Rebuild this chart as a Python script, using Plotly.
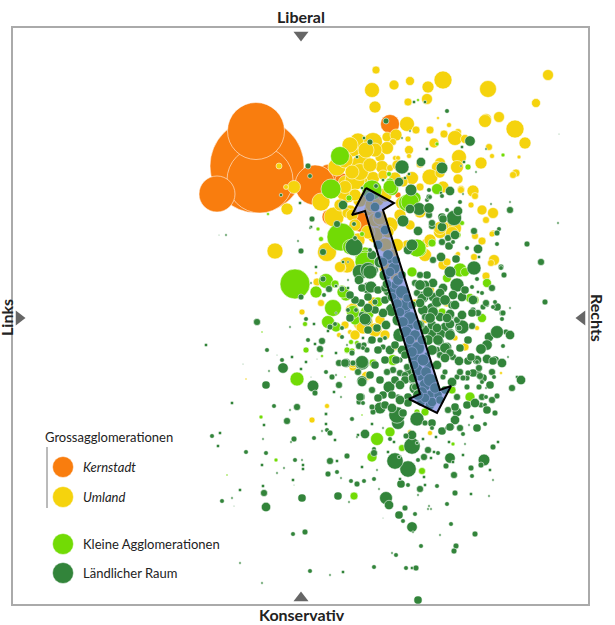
import plotly.graph_objects as go

# Each reading: (left-right position, liberal-conservative position, municipality size)
kernstadt = [(257,166,94),(260,180,66),(256,131,57),(217,194,36),(330,178,28),(315,185,40),
             (390,124,19),(360,222,20),(342,180,14),(330,217,16),(398,195,6)]

umland = [(376,70,8),(372,90,15),(394,85,10),(410,81,9),(428,87,12),(443,80,18),(488,89,17),(548,75,11),
(536,103,9),(375,107,12),(408,102,8),(427,99,11),(499,117,11),(486,119,11),(485,121,13),(515,129,18),
(525,143,12),(407,124,15),(416,130,8),(430,130,8),(444,134,8),(449,125,5),(438,118,3),(458,132,7),
(455,138,15),(465,139,9),(408,139,6),(434,143,10),(409,150,9),(409,156,5),(489,147,7),(492,156,5),
(519,157,4),(481,163,12),(459,157,15),(457,167,13),(440,163,11),(437,167,11),(420,164,8),(430,177,16),
(440,173,10),(458,179,10),(461,189,7),(473,191,12),(475,196,7),(516,173,8),(513,175,7),(443,187,12),
(412,178,13),(420,187,8),(362,165,22),(352,147,20),(358,141,16),(373,142,19),(387,137,10),(396,135,12),
(393,142,7),(380,157,10),(387,148,13),(382,167,13),(395,158,5),(398,158,5),(390,168,7),(358,182,11),
(345,182,13),(373,178,13),(383,175,10),(395,178,12),(403,182,10),(279,166,6),(294,187,13),(286,187,5),
(287,209,12),(275,251,16),(321,202,18),(334,217,20),(327,252,19),(347,193,20),(350,212,14),(337,167,18),
(362,182,12),(350,145,16),(355,180,20),(345,187,13),(482,210,10),(493,213,11),(486,220,7),(493,233,6),
(475,236,7),(482,241,8),(474,257,7),(494,260,11),(491,263,7),(486,276,8),(453,228,17),(443,227,12),
(440,232,13),(443,265,10),(457,255,5),(447,303,8),(455,338,6),(465,347,8),(477,328,5),(367,376,9),
(353,367,8),(347,265,16),(342,268,8),(363,322,20),(352,310,13),(380,320,10),(373,302,10),(398,273,10),
(415,303,8),(425,255,13),(402,203,13),(408,208,8),(407,245,10),(347,213,10),(343,205,8),(352,215,12),
(395,348,5),(501,373,3),(415,340,4),(383,230,15),(390,225,16),(397,245,13),(373,193,13),(360,172,17),
(461,190,7),(471,205,6),(492,234,6),(458,254,5),(452,233,13),(440,228,13),(447,262,8),(426,243,9),
(317,282,8),(321,303,7),(302,312,6),(340,267,11),(316,273,3),(339,335,5),(350,332,5),(356,336,4),
(353,364,8),(366,376,9),(327,406,5),(312,420,6),(246,379,2),(363,327,14),(353,308,10),(410,432,5),
(430,433,5),(393,407,6),(370,210,12),(410,225,10),(385,260,9),(400,290,8),(425,320,7),(430,290,9),
(375,150,14),(366,150,16),(345,160,16),(352,172,14),(368,195,14),(340,205,12),(360,200,14),(420,212,12),
(400,215,12),(430,240,12),(375,220,14),(355,225,12),(375,330,14),(355,335,10),(345,325,8),(385,335,10),
(375,235,16),(385,245,14),(372,205,14),(380,218,14),(378,200,12),(388,232,12),(392,255,12),(385,268,12),
(395,276,10),(400,298,9),(368,232,14),(358,240,14),(370,165,14),(355,195,12),(385,195,14),(397,165,10)]

kleine_agglomerationen = [(340,156,19),(331,189,20),(341,237,28),(349,198,6),(321,239,5),(318,229,4),
(268,214,3),(362,234,5),(365,257,20),(350,247,15),(372,190,20),(437,144,4),(418,100,3),(503,155,4),
(468,167,6),(437,189,11),(392,189,13),(390,182,8),(415,198,12),(389,174,5),(295,284,30),(316,292,12),
(326,281,15),(346,295,12),(333,308,17),(328,322,13),(336,327,10),(335,284,8),(342,288,6),(305,324,5),
(262,332,2),(306,350,6),(322,356,3),(297,379,14),(345,377,2),(347,351,5),(351,342,5),(357,343,5),
(352,351,6),(362,415,2),(261,417,4),(365,260,20),(353,313,10),(355,320,10),(367,313,14),(365,262,20),
(390,187,14),(407,203,17),(420,250,13),(343,292,12),(412,272,10),(460,270,14),(482,318,9),(487,283,9),
(447,278,9),(470,298,9),(353,312,13),(373,363,8),(393,360,11),(378,302,10),(347,350,6),(470,397,10),
(462,223,5),(458,235,6),(410,202,18),(432,243,8),(417,248,18),(465,272,9),(475,300,8),(425,412,8),
(452,390,8),(437,304,8),(442,312,8),(377,439,13),(390,432,10),(372,457,10),(354,496,8),(422,471,7),
(402,448,7),(453,444,4),(276,460,4),(227,475,2),(417,412,6)]

laendlicher_raum = [(274,406,4),(297,407,6),(290,410,2),(287,421,6),(264,425,3),(326,414,3),(326,424,3),
(327,430,4),(330,433,5),(322,431,2),(314,438,4),(335,440,3),(294,439,5),(263,439,2),(291,442,2),(212,436,4),
(220,433,3),(218,446,3),(246,452,4),(266,453,4),(262,465,3),(295,460,4),(284,468,2),(277,473,2),(302,460,2),
(303,465,3),(303,469,3),(293,480,3),(263,486,3),(264,493,6),(240,490,3),(232,498,2),(222,501,4),(234,506,1),
(266,507,8),(302,498,7),(338,496,7),(294,485,1),(330,461,6),(337,461,3),(347,456,5),(328,474,5),(337,472,4),
(341,478,2),(351,481,4),(357,484,5),(364,481,4),(374,479,4),(379,489,2),(362,467,3),(377,470,2),(349,502,2),
(386,498,11),(389,505,8),(405,508,5),(399,515,7),(403,521,4),(415,514,4),(412,527,9),(413,532,2),(383,518,1),
(418,495,2),(420,489,6),(429,506,2),(431,509,2),(428,509,2),(447,504,4),(451,524,4),(475,534,5),(440,535,2),
(421,546,4),(456,546,5),(454,551,5),(396,555,4),(392,553,2),(406,568,4),(412,568,3),(416,568,5),(374,567,4),
(343,572,3),(330,575,2),(310,571,4),(305,532,5),(293,534,4),(240,563,2),(262,583,2),(418,600,7),(401,484,7),
(400,479,3),(408,485,4),(425,485,3),(437,486,4),(424,477,3),(455,493,5),(471,494,3),(489,496,2),(454,475,6),
(472,476,4),(471,468,5),(490,470,3),(493,480,2),(484,460,10),(481,465,5),(446,466,5),(450,458,9),(453,462,3),
(463,455,3),(465,444,2),(438,453,4),(434,452,3),(428,450,6),(424,457,6),(418,460,4),(431,458,3),(408,469,14),
(395,461,14),(399,457,3),(412,446,14),(417,443,3),(412,435,8),(406,436,5),(388,452,3),(374,449,4),(374,453,6),
(390,439,4),(394,442,3),(365,434,8),(358,435,3),(357,437,2),(372,424,3),(352,419,4),(383,428,2),(398,423,11),
(397,415,14),(380,408,10),(373,412,5),(417,419,12),(432,423,7),(425,423,5),(432,428,4),(442,431,7),(447,428,4),
(453,427,3),(457,412,8),(455,420,8),(477,428,7),(463,434,4),(485,424,4),(481,405,5),(485,405,4),(495,413,5),
(493,447,5),(498,442,3),(449,442,3),(436,437,3),(423,439,3),(467,405,7),(472,417,4),(469,425,2),
(337,224,6),(354,247,15),(301,251,5),(323,252,6),(311,227,3),(298,241,2),(226,235,2),(219,235,1),(301,297,5),
(257,322,6),(306,319,4),(314,324,3),(290,327,2),(206,345,3),(267,350,4),(282,360,4),(283,368,9),(292,357,3),
(277,355,1),(243,364,1),(269,371,2),(306,362,3),(301,369,3),(308,340,4),(315,344,3),(322,341,6),(320,349,6),
(317,359,1),(266,385,7),(313,386,10),(315,393,5),(311,377,1),(326,372,4),(332,377,5),(336,375,2),(339,385,6),
(334,392,3),(341,397,2),(232,403,3),(326,414,3),(352,419,4),(336,353,3),(339,363,6),(346,363,8),(362,363,12),
(362,381,9),(361,397,7),(359,402,5),(363,403,4),(352,353,5),(347,345,2),(359,346,6),(364,345,5),(367,350,5),
(363,348,4),(369,342,3),(342,289,5),(329,289,6),(323,279,5),(336,286,3),(348,288,3),(324,295,4),(328,331,3),
(330,327,5),(335,324,4),(342,328,4),(342,337,4),(336,313,2),(316,267,3),(311,283,2),(360,272,13),(368,270,13),
(359,280,8),(368,288,10),(362,288,7),(366,320,10),(361,303,7),(368,297,7),(348,310,4),(356,310,4),(362,315,6),
(363,338,3),(348,280,2),(343,262,3),(348,262,2),
(411,190,10),(450,191,8),(429,190,4),(419,209,11),(410,209,8),(403,221,10),(418,231,8),(427,200,4),(429,215,6),
(432,226,6),(442,217,7),(454,218,13),(458,211,8),(460,202,4),(474,231,6),(442,227,8),(448,238,6),(455,235,8),
(478,249,8),(474,268,12),(492,288,6),(501,267,5),(457,285,12),(462,297,8),(473,300,8),(462,327,12),(473,310,5),
(498,333,8),(489,337,8),(506,332,5),(502,313,5),(497,307,7),(478,313,6),(483,307,5),(487,305,4),(450,315,8),
(452,305,7),(442,300,6),(443,288,8),(433,283,8),(427,275,7),(420,275,6),(423,297,10),(433,297,8),(440,293,8),
(432,308,9),(440,317,8),(423,310,9),(417,293,6),(415,283,6),(408,250,8),(412,245,10),
(378,245,8),(372,255,8),(380,262,10),(385,275,10),(390,290,12),(395,300,8),(392,310,11),(398,320,10),(400,335,12),
(410,345,10),(402,350,8),(415,360,12),(410,370,9),(420,375,10),(425,385,10),(415,388,10),(430,395,8),(385,300,7),
(405,310,9),(410,325,8),(420,350,7),(395,285,7),(375,270,6),(390,260,6),(370,197,8),(375,207,8),(385,230,8),(378,215,6),
(371,287,10),(370,272,12),(383,313,8),(375,302,5),(365,319,10),(350,318,7),(385,338,4),(380,340,5),(383,347,5),
(362,362,11),(345,363,7),(353,363,5),(362,382,8),(389,387,10),(372,390,6),(360,397,7),(372,407,5),(400,360,5),
(407,367,6),(400,373,6),(393,370,6),(387,372,6),(405,375,6),(395,380,7),(412,380,6),(408,397,7),(415,387,6),
(398,397,5),(447,347,8),(440,342,7),(437,350,6),(427,355,5),(433,333,10),(425,330,8),(450,333,8),(445,327,8),
(453,357,6),(477,360,8),(468,361,7),(460,348,7),(487,345,9),(495,360,7),(502,363,7),(467,378,5),(477,373,7),
(483,378,7),(490,385,7),(482,397,6),(457,397,6),(455,407,7),(448,410,6),(475,403,8),(487,410,7),(457,377,5),
(443,377,5),(453,383,6),
(510,210,6),(558,223,2),(527,244,5),(541,262,6),(545,302,5),(504,275,5),(501,268,4),(497,244,4),(499,229,4),
(497,233,5),(491,204,2),(510,202,2),(467,248,4),(479,257,3),(456,259,7),(441,257,8),(433,260,6),(449,246,7),
(453,242,4),(442,242,6),(447,210,4),(443,219,7),(429,197,5),(429,208,9),(432,223,6),(450,272,10),(477,279,4),
(472,287,4),(465,290,7),(453,295,8),(425,285,8),(422,298,8),(482,293,4),(478,292,3),(495,302,4),(486,303,6),
(510,308,2),(497,332,11),(510,335,8),(503,346,4),(508,357,2),(481,349,9),(487,359,8),(493,361,7),(502,363,8),
(477,362,4),(479,368,6),(473,373,7),(468,373,5),(480,376,6),(492,372,6),(494,377,4),(482,382,4),(479,387,5),
(486,388,2),(517,377,3),(521,380,8),(512,388,6),(497,396,5),(492,400,6),(486,397,4),(408,403,7),(403,413,7),
(450,427,7),(460,428,6),(457,320,6),(450,324,8),(459,328,5),(472,326,6),(468,340,7),(441,334,8),(450,335,9),
(445,348,9),(450,353,7),(459,361,8),(440,355,6),(460,372,6),(471,357,7),(463,378,5),(452,382,8),(445,372,5),
(467,387,5),(472,313,7),(462,315,8),(455,305,8),(433,312,9),(425,317,6),(432,325,8),(450,314,8),(493,307,4),
(503,313,5),(502,319,4),(405,380,7),
(386,121,5),(414,102,3),(425,102,3),(447,111,4),(410,131,2),(470,141,9),(427,149,3),(462,147,3),(486,149,2),
(476,172,2),(402,167,12),(421,162,8),(442,168,10),(399,182,8),(409,174,3),(405,178,3),(383,180,3),(370,142,5),
(364,138,3),(357,157,3),(402,138,2),(376,186,4),(362,188,3),(464,162,3),(461,166,2),(441,193,3),(430,197,4),
(442,196,4),(463,194,2),(559,134,1),(308,166,5),(310,176,4),(281,195,3),(300,203,3),(312,219,5),(310,228,2),
(343,205,8),(354,224,4),(355,238,4),(370,250,4),
(420,285,9),(428,292,9),(437,302,9),(420,303,8),(445,300,9),(430,318,9),(437,328,8),(420,325,8),(447,318,8),
(428,340,9),(438,340,9),(432,350,9),(445,358,8),(437,365,8),(428,365,7),(445,390,7),(438,395,7),(430,405,8),
(421,402,7),(400,400,8),(392,395,7),(383,395,7),(385,405,7),(392,408,8),(378,398,7),(380,380,7),(370,375,7),
(358,372,6),(375,365,7),(385,360,7),(378,350,7),(390,350,8),(396,360,7),(400,385,8),(395,345,7),(372,340,7),
(368,330,7),(377,328,7),(386,325,8),(355,300,7),(350,295,7),(378,290,7),(385,288,7),(375,310,7),(368,308,8),
(388,255,9),(383,262,8),(394,268,10),(390,272,8),(398,280,9),(387,284,8),(402,292,11),(392,297,8),(405,305,10),
(397,304,9),(400,312,8),(410,318,11),(403,322,9),(406,332,10),(415,335,9),(410,340,8),(418,348,11),(412,352,9),
(423,360,10),(417,370,10),(426,372,9),(413,378,8),(430,380,11),(422,392,9),(435,388,9),(432,402,8),(425,398,8),
(418,395,9),(440,400,7),(414,365,8),(405,355,7),(422,340,8),(418,325,9),(412,305,7),(407,298,7),(396,260,7),(402,275,7)]

series_names = ["Kernstadt", "Umland", "Kleine Agglomerationen", "Ländlicher Raum"]
series_data = [kernstadt, umland, kleine_agglomerationen, laendlicher_raum]
series_colors = ["#F97D0E", "#F5D30D", "#72DB05", "#32843A"]
legend_x = [63, 63, 63, 63]
legend_y = [467, 497, 544, 573]
arrow_x = [366, 394, 383, 440, 451, 437, 409, 420, 365, 352, 366]
arrow_y = [188, 203, 210, 390, 386, 413, 399, 394, 211, 215, 188]
FONT = "Lato"
X_RANGE = [13, 588]
Y_RANGE = [604, 28]

fig = go.Figure()
for name, data, color in zip(series_names, series_data, series_colors):
    xs, ys, sizes = zip(*data)
    fig.add_trace(go.Scatter(x=xs, y=ys, mode="markers", name=name, showlegend=False,
        marker=dict(size=sizes, sizemode="diameter", sizeref=0.85 if color == "#32843A" else 1, color=color, opacity=1,
                    line=dict(color="rgba(255,255,255,0.55)", width=1))))

fig.add_trace(go.Scatter(x=arrow_x, y=arrow_y, mode="lines", fill="toself", showlegend=False,
    fillcolor="rgba(95,110,215,0.58)", line=dict(color="black", width=2)))

fig.add_trace(go.Scatter(x=legend_x, y=legend_y, mode="markers", showlegend=False, cliponaxis=False,
    marker=dict(size=21, color=series_colors, opacity=1, line=dict(color="rgba(255,255,255,0.5)", width=1))))

fig.add_trace(go.Scatter(x=[47, 47], y=[447, 508], mode="lines", showlegend=False,
    line=dict(color="#777777", width=1)))

fig.add_trace(go.Scatter(x=[301, 301, 19, 582], y=[35, 598, 318, 318], mode="markers",
    showlegend=False, cliponaxis=False,
    marker=dict(size=13, color="#666666", opacity=1,
                symbol=["triangle-down", "triangle-up", "triangle-right", "triangle-left"])))

def label(text, x, y, size=14, bold=False, italic=False, angle=0, anchor="center"):
    fig.add_annotation(
        x=(x - X_RANGE[0]) / (X_RANGE[1] - X_RANGE[0]), y=(Y_RANGE[0] - y) / (Y_RANGE[0] - Y_RANGE[1]),
        xref="paper", yref="paper", text=f"<b>{text}</b>" if bold else text,
        showarrow=False, textangle=angle, xanchor=anchor, yanchor="middle",
        font=dict(family=FONT, size=size, color="#222222", style="italic" if italic else "normal"))

label("Liberal", 301, 17, 16, True)
label("Konservativ", 302, 614, 16, True)
label("Rechts", 598, 318, 16, True, angle=90)
label("Links", 6, 318, 16, True, angle=-90)
label("Grossagglomerationen", 43, 437, 13, anchor="left")
label("Kernstadt", 81, 467, 13, italic=True, anchor="left")
label("Umland", 81, 497, 13, italic=True, anchor="left")
label("Kleine Agglomerationen", 81, 544, 13, anchor="left")
label("Ländlicher Raum", 81, 573, 13, anchor="left")

axis = dict(showgrid=False, zeroline=False, showticklabels=False, ticks="", showline=True,
            mirror=True, linecolor="#aaaaaa", linewidth=2)
fig.update_xaxes(range=X_RANGE, **axis)
fig.update_yaxes(range=Y_RANGE, **axis)
fig.update_layout(width=615, height=625, margin=dict(l=13, r=27, t=28, b=21),
                  plot_bgcolor="white", paper_bgcolor="white", hovermode=False)

fig.write_html("out.html", post_script="document.body.style.margin='0';",
               config={"displayModeBar": False})
